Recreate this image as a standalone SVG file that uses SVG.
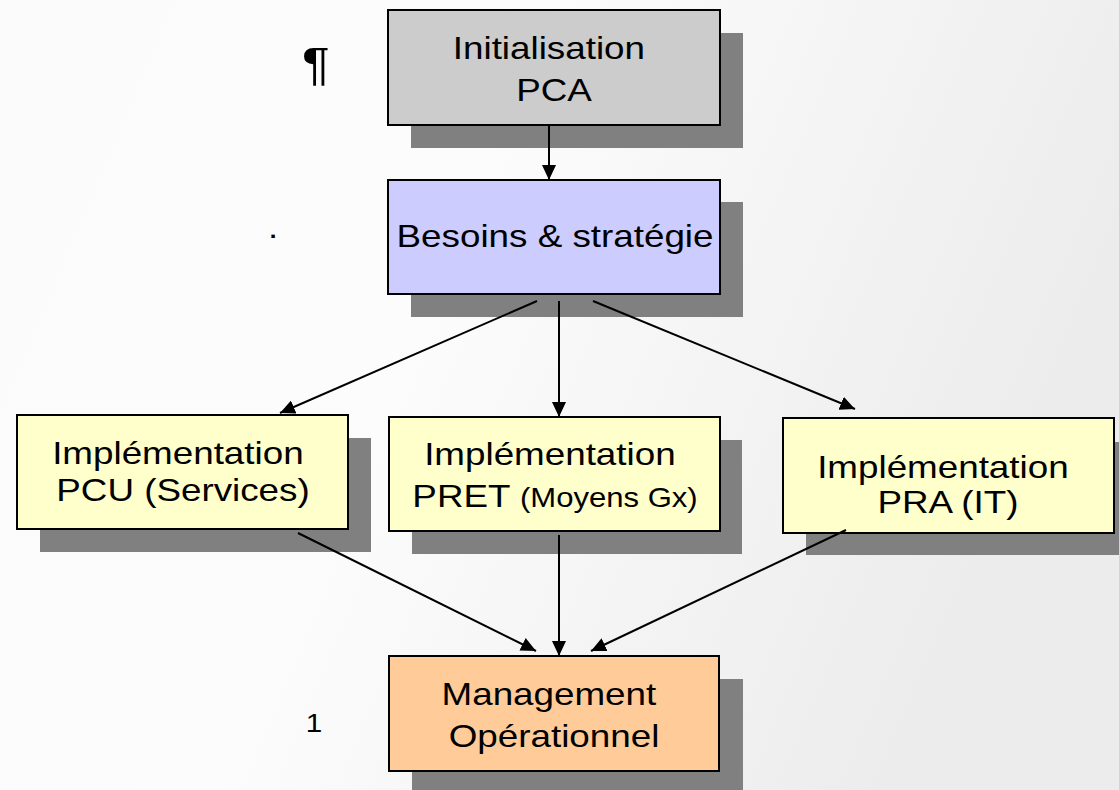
<svg xmlns="http://www.w3.org/2000/svg" width="1119" height="790" viewBox="0 0 1119 790">
  <defs>
    <linearGradient id="bg" x1="0" y1="0" x2="1" y2="0.3">
      <stop offset="0" stop-color="#fbfbfb"/>
      <stop offset="0.45" stop-color="#fcfcfc"/>
      <stop offset="1" stop-color="#ececec"/>
    </linearGradient>
    <marker id="arrow" markerUnits="userSpaceOnUse" markerWidth="16" markerHeight="14" refX="15" refY="7" orient="auto">
      <path d="M0,0 L15,7 L0,14 Z" fill="#000"/>
    </marker>
    <style>
      .shadow { fill: #808080; }
      .box { stroke: #000; stroke-width: 2; }
      .grey { fill: #cccccc; }
      .blue { fill: #ccccff; }
      .yellow { fill: #ffffcc; }
      .orange { fill: #ffcc99; }
      .lbl { font-family: "Liberation Sans", Arial, sans-serif; font-size: 32px; fill: #000; text-anchor: middle; }
      .small { font-size: 27px; }
      .conn line { stroke: #000; stroke-width: 2; marker-end: url(#arrow); }
    </style>
  </defs>

  <rect width="1119" height="790" fill="url(#bg)"/>

  <!-- stray marks beside the chart -->
  <text class="lbl" style="font-size:47px" transform="translate(316 0) scale(1.1 1)" y="80">¶</text>
  <text class="lbl" transform="translate(273 0) scale(1.14 1)" y="245">·</text>
  <text class="lbl" style="font-size:26px" transform="translate(314 0) scale(1.14 1)" y="732">1</text>

  <g id="init">
    <rect class="shadow" x="411" y="33" width="332" height="115"/>
    <rect class="box grey" x="388" y="10" width="332" height="115"/>
    <text class="lbl" transform="translate(554 0) scale(1.15 1)">
      <tspan x="0" y="59">Initialisation</tspan>
      <tspan x="0" y="101">PCA</tspan>
    </text>
  </g>

  <g id="besoins">
    <rect class="shadow" x="411" y="202" width="332" height="115"/>
    <rect class="box blue" x="388" y="180" width="332" height="114"/>
    <text class="lbl" transform="translate(555 0) scale(1.15 1)" x="0" y="247">Besoins &amp; stratégie</text>
  </g>

  <g id="pcu">
    <rect class="shadow" x="40" y="438" width="331" height="114"/>
    <rect class="box yellow" x="17" y="415" width="331" height="114"/>
    <text class="lbl" transform="translate(183 0) scale(1.15 1)">
      <tspan x="0" y="464">Implémentation</tspan>
      <tspan x="0" y="501">PCU (Services)</tspan>
    </text>
  </g>

  <g id="pret">
    <rect class="shadow" x="412" y="440" width="330" height="114"/>
    <rect class="box yellow" x="389" y="417" width="331" height="114"/>
    <text class="lbl" transform="translate(555 0) scale(1.15 1)">
      <tspan x="0" y="465">Implémentation</tspan>
      <tspan x="0" y="507">PRET <tspan class="small">(Moyens Gx)</tspan></tspan>
    </text>
  </g>

  <g id="pra">
    <rect class="shadow" x="806" y="442" width="331" height="113"/>
    <rect class="box yellow" x="783" y="418" width="331" height="115"/>
    <text class="lbl" transform="translate(948 0) scale(1.15 1)">
      <tspan x="0" y="478">Implémentation</tspan>
      <tspan x="0" y="513">PRA (IT)</tspan>
    </text>
  </g>

  <g id="management">
    <rect class="shadow" x="412" y="679" width="331" height="115"/>
    <rect class="box orange" x="389" y="656" width="330" height="115"/>
    <text class="lbl" transform="translate(554 0) scale(1.15 1)">
      <tspan x="0" y="705">Management</tspan>
      <tspan x="0" y="747">Opérationnel</tspan>
    </text>
  </g>

  <!-- connectors, drawn over the drop shadows -->
  <g id="connectors" class="conn">
    <line x1="549" y1="125" x2="549" y2="180"/>
    <line x1="537" y1="301" x2="280" y2="413"/>
    <line x1="559" y1="301" x2="559" y2="417"/>
    <line x1="593" y1="301" x2="855" y2="409"/>
    <line x1="298" y1="533" x2="536" y2="651"/>
    <line x1="559" y1="535" x2="559" y2="656"/>
    <line x1="846" y1="530" x2="591" y2="651"/>
  </g>
</svg>
